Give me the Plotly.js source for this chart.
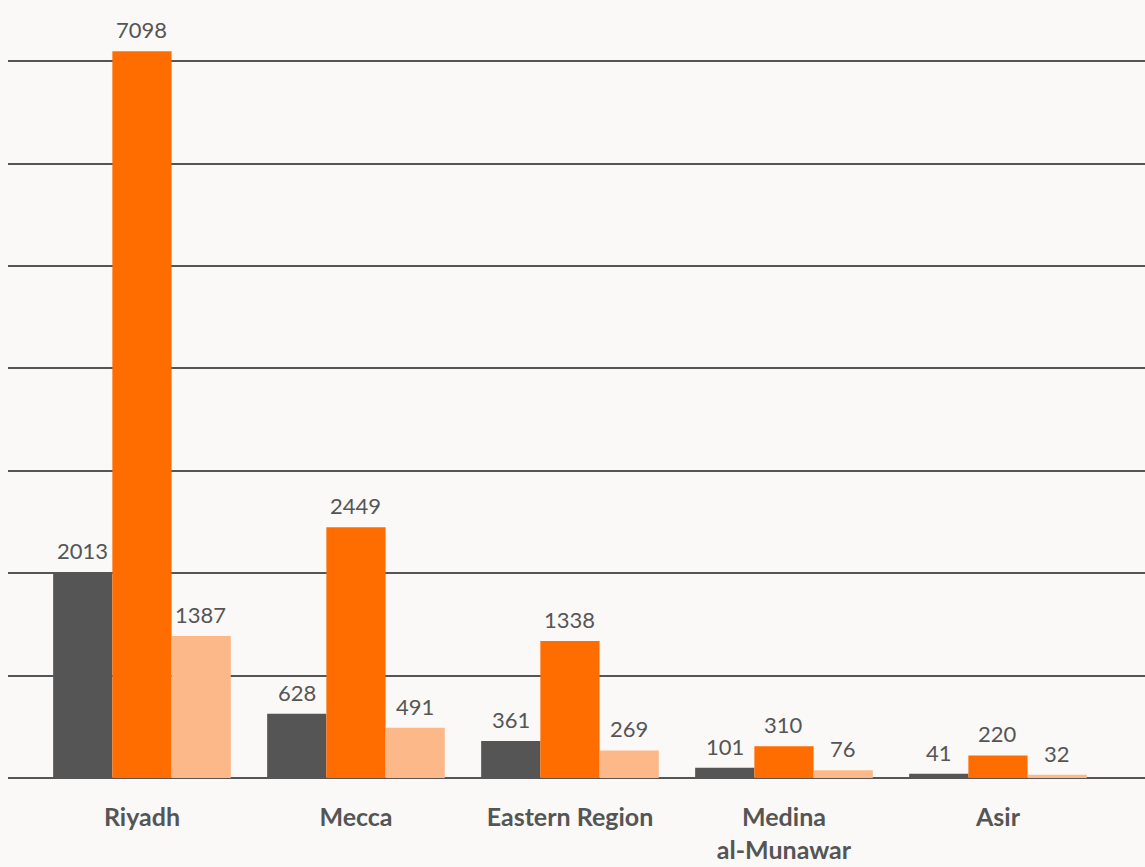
<!DOCTYPE html>
<html>
<head>
<meta charset="utf-8">
<script src="https://cdn.plot.ly/plotly-3.0.1.min.js"></script>
<style>html,body{margin:0;padding:0;background:#faf9f8;}#chart{width:1145px;height:867px;}</style>
</head>
<body>
<div id="chart"></div>
<script>
const categories = ["Riyadh", "Mecca", "Eastern Region", "Medina<br>al-Munawar", "Asir"];
const seriesA = [2013, 628, 361, 101, 41];
const seriesB = [7098, 2449, 1338, 310, 220];
const seriesC = [1387, 491, 269, 76, 32];

const colors = ["#555555", "#ff6d00", "#fdb88a"];
const textFont = {family: "Lato, 'Open Sans', sans-serif", size: 22, color: "#555555"};

function mk(vals, color) {
  return {
    type: "bar", x: categories, y: vals,
    marker: {color: color, line: {width: 0}},
    hoverinfo: "skip"
  };
}

const allSeries = [seriesA, seriesB, seriesC];
const data = allSeries.map((s, i) => mk(s, colors[i]));

const shifts = [-59, 0, 59];
const annotations = [];
allSeries.forEach((s, i) => {
  s.forEach((v, j) => {
    annotations.push({
      x: categories[j], y: v, xref: "x", yref: "y",
      text: String(v), showarrow: false,
      xanchor: "center", yanchor: "bottom",
      xshift: shifts[i], yshift: 6,
      font: textFont
    });
  });
});

const layout = {
  width: 1145, height: 867,
  margin: {l: 8, r: 0, t: 30, b: 89},
  paper_bgcolor: "#faf9f8", plot_bgcolor: "#faf9f8",
  showlegend: false,
  barmode: "group", bargap: 0.17, bargroupgap: 0,
  annotations: annotations,
  xaxis: {
    type: "category", range: [-0.626, 4.687],
    showgrid: false, zeroline: false, showline: false, ticks: "",
    tickfont: {family: "Lato, sans-serif", size: 25, color: "#555555", weight: "bold"},
    ticklabelstandoff: 22
  },
  yaxis: {
    range: [0, 7305], dtick: 1000, showticklabels: false,
    showgrid: true, gridcolor: "#555555", gridwidth: 2,
    zeroline: true, zerolinecolor: "#555555", zerolinewidth: 2,
    showline: false, ticks: ""
  },
  font: {family: "Lato, sans-serif", color: "#555555"}
};

Plotly.newPlot("chart", data, layout, {displayModeBar: false, staticPlot: true});
</script>
</body>
</html>
